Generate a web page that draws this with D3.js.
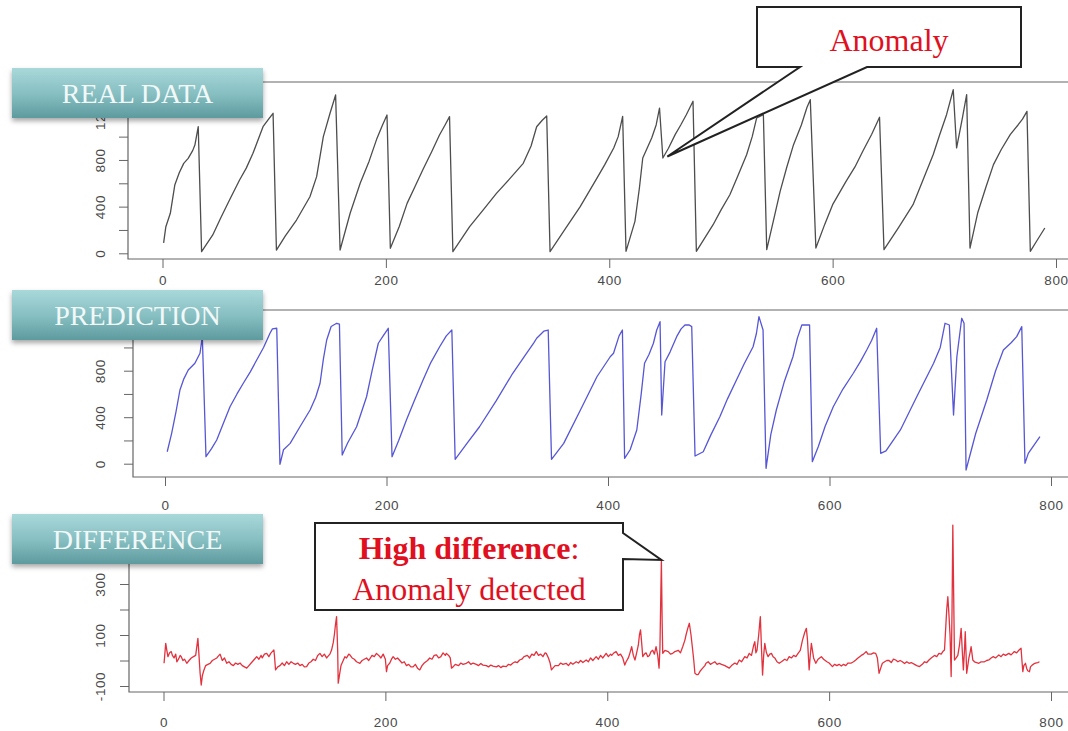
<!DOCTYPE html>
<html>
<head>
<meta charset="utf-8">
<script src="https://cdn.jsdelivr.net/npm/d3@7"></script>
<style>
  body { margin: 0; background: #fff; }
  svg { display: block; }
  .tick text { font-family: "Liberation Sans", Arial, sans-serif; font-size: 13.5px; letter-spacing: 0.6px; fill: #4a4a4a; }
</style>
</head>
<body>
<script>

// values: time index and value for each series
var realX = [1,3,7,11,15,19,23,27,29,32,35,45,52,60,69,75,81,90,95,99,102,110,120,132,138,144,150,155,159,168,177,185,192,197,201,204,212,219,226,233,241,248,253,257,260,275,287,299,311,323,330,335,340,344,347,360,374,389,396,404,408,412,415,423,427,430,438,442,445,448,453,459,464,469,475,478,493,500,508,515,523,528,532,538,541,547,553,559,565,572,577,580,585,593,600,612,620,627,635,642,646,659,672,681,690,696,702,708,711,716,720,723,730,737,744,751,759,766,770,774,777,783,790];
var realY = [90,228,343,585,690,771,814,880,928,1085,14,157,300,457,628,730,857,1085,1150,1200,28,150,285,485,657,1000,1200,1357,28,343,600,790,985,1100,1185,43,230,428,570,714,870,1014,1100,1171,14,228,370,514,640,771,920,1085,1140,1177,14,200,400,645,760,903,1000,1174,17,274,560,817,988,1100,1245,817,900,1017,1100,1188,1303,17,245,370,502,660,845,1000,1160,1188,31,280,531,740,931,1100,1250,1317,45,250,417,617,740,874,1020,1166,31,220,417,630,845,1020,1188,1402,903,1150,1360,45,350,560,760,890,1017,1100,1150,1217,17,110,217];

var predX = [2,6,10,13.5,17,21,27,31.6,33.7,37,42,46.7,52,58.7,65,70.7,77,82.8,89,94.8,97,100.9,103.8,107,113,122,131,136,140,143,146,150,155,157.5,160,165,173,182,187,192.6,197,201.6,205,211,218,225,233,240,248,254,259,262,273,284,299,314,325,333,335.6,342,346,349,360,375,390,402,405,410,413,415,420,426,430,433,437,441,444,447,448.5,451.5,456,462,466,469.5,473,475.6,478.6,486,493,501,508,516,523,531,534,536.3,540,542.7,547,552,559,567,571,575,582,584.5,590,596,603.4,612,621.5,628,633.6,638,642.6,646.2,651,664,679,694,700,704.3,708.2,712,715,719.4,721.5,723.3,732,742,750,757,764,769,773.6,776.5,779.5,790];
var predY = [103,261,450,634,730,806,864,950,1093,60,130,204,330,490,600,692,790,892,1000,1122,1160,1165,-5,120,175,320,462,570,692,900,1064,1180,1208,1200,75,180,318,576,800,1036,1100,1165,60,200,376,540,720,870,1006,1100,1150,38,180,318,540,778,930,1040,1079,1140,1150,38,175,460,748,920,950,1100,1150,46,120,290,600,864,940,1036,1150,1222,419,877,960,1093,1160,1193,1195,1179,66,103,250,404,560,720,860,1006,1120,1265,1150,-40,250,462,700,920,1080,1193,1193,17,150,320,490,640,778,880,978,1060,1165,89,110,290,580,864,1000,1208,1193,419,920,1251,1208,-54,260,548,800,978,1040,1093,1179,3,89,232];

var diffX = [0.5,2,3,4,5.5,7,8,9.5,11,12,13.5,15,16,17.5,19,21,23,25,27,29,31,32,33,34,35,36.5,38,40,42,44,46,48,49,51,53,55,57,59,61,63,65,67,69,71,73,75,77,79,80,82,84,86,88,89,91,93,95,97,99.5,100,101,103,105,107,109,111,113,115,117,119,121,123,125,127,129,131,133,135,137,139,141,143,145,147,148,150,151.5,153,154,155,156,157,157.5,158.5,160,162,163.5,165,167,168,170,172,174,177,179,181,183,185,188,190,192,194,196,198,200,201,202,204,205.5,207,209,211,213,215,217,219,221,223,225,227,229,231,233,235,238,240,242,244,246,248,250,252,254,255,257,258.5,259.6,261,263,266,268,270,273,275,277,279,282,284,286,288,291,293,295,297,300,302,304,306,309,311,313,315,317,319,321,323,325,328,330,332,334,336,338,340,342,344,345,347,348.5,349.7,351,353,356,358,360,363,365,367,369,372,374,376,378,381,383,385,387,390,392,394,396,399,401,403,404,406,408,410,412,414,415.8,417,419,420.5,422,423.5,425,426.5,428,429,430,431,432,433.5,435,436.5,438,439.5,441,442.5,444,445.5,446.7,447.5,448.8,449.5,450,452,455,457,459,461,464,466,468,470,471,472.5,474,475.5,477,478,479,480.5,482,484,486,488,489,491,493,495,497,499,501,503,506,508,510,512,515,517,519,521,524,526,528,530,531,532,533,534,535,536.5,537.5,538,539,540,541,542,543.5,545,546.5,548,549.5,551,553,555,557,560,562,564,566,568,570,572,574,576,578,579.5,580.5,582,583,584,586,588,590,593,595,598,600,603,605,607,609,611,613,615,617,620,622,624,626,629,631,633.5,635,638,640,642,643.5,645,646.5,648,650,652,654,656,658,660,662,664,666,668,670,672,674,677,679,681.5,684,686,688,690,692,695,697,699,701,702.5,704,705,706,707,708,709,710,710.8,711.5,712.3,713,714.5,716,717.5,719,720,721,722,722.7,723.4,724,725,726,727,728,729,729.5,731,733,735,737,740,742,744,746,748,750,753,755,757,759,762,764,767,769,771,773,773.8,774.6,775.5,777,778,779,780.6,781.5,783,785,786,788,789.6];
var diffY = [-11,67,40,15,30,35,20,10,25,-5,5,20,15,0,5,-11,0,10,15,20,87,20,-50,-96,-60,-37,-20,-15,-11,0,5,10,15,25,0,10,-11,-5,-15,-20,-10,-15,-10,-20,-25,-30,-20,-10,-5,5,15,5,20,10,25,28,15,30,41,20,-37,-25,-20,-10,-20,-5,-15,-5,-11,-15,-10,-20,-15,-25,-24,-10,-5,5,0,20,28,15,25,10,15,25,41,70,100,140,172,40,-89,-60,-20,0,15,10,25,22,10,5,-5,-11,0,5,10,0,20,15,28,20,10,25,5,-44,-20,-10,5,15,5,10,0,-10,-5,-20,-15,-25,-25,-15,-30,-37,-20,-10,0,10,5,20,22,10,15,30,20,28,20,10,-30,-25,-15,-20,-10,-15,-11,-5,-15,-10,-15,-20,-12,-18,-20,-25,-18,-22,-25,-20,-28,-22,-24,-15,-18,-10,-5,-8,2,5,15,20,10,25,20,35,20,25,15,30,28,10,-10,-37,-30,-20,-20,-10,-15,-11,-20,-8,-15,-5,-10,0,-8,2,-5,10,0,15,5,20,10,28,15,25,20,30,35,20,25,10,-18,-5,10,30,54,20,2,30,60,100,120,70,15,25,30,15,20,35,40,25,54,20,-30,50,394,150,28,40,35,25,28,35,40,30,54,80,100,125,146,100,41,0,-50,-55,-55,-40,-30,-20,-11,-5,-15,-10,-5,-15,-11,-15,-20,-25,-30,-20,-10,-15,2,-5,15,10,28,20,40,60,74,30,40,100,150,172,50,-57,20,67,30,15,25,28,15,10,-5,-11,-5,5,0,15,10,20,15,28,40,80,110,126,80,-37,20,67,10,-11,5,15,5,-5,-10,-24,-15,-20,-15,-22,-15,-20,-10,-10,-5,2,10,20,25,35,25,25,30,28,10,-50,-30,-11,-5,0,0,-8,5,2,-5,0,-5,-12,-5,-11,-8,-15,-20,-24,-15,-5,-8,2,10,20,15,28,25,35,41,120,200,250,180,100,-63,200,531,250,2,10,20,60,126,40,-37,40,113,30,-50,-20,10,30,54,20,2,-5,-8,-11,-5,-5,0,2,10,15,10,22,15,25,20,28,22,35,30,40,48,0,-44,-20,-11,-30,-40,-44,-25,-18,-12,-10,-8,-5];

var xTicks = [0, 200, 400, 600, 800];
var levelTicks = [0, 200, 400, 600, 800, 1000, 1200];
var levelLabels = [0, 400, 800, 1200];
var diffTicks = [-100, 0, 100, 200, 300];
var diffLabels = [-100, 100, 300];

var svg = d3.select("body").append("svg")
	.attr("width", 1068)
	.attr("height", 731);

var defs = svg.append("defs");
var grad = defs.append("linearGradient")
	.attr("id", "teal")
	.attr("x1", 0).attr("y1", 0).attr("x2", 0).attr("y2", 1);
grad.append("stop").attr("offset", "0%").attr("stop-color", "#a9d8da");
grad.append("stop").attr("offset", "55%").attr("stop-color", "#84bdc0");
grad.append("stop").attr("offset", "100%").attr("stop-color", "#5d9a9e");

var shadow = defs.append("filter").attr("id", "shadow")
	.attr("x", "-5%").attr("y", "-20%").attr("width", "110%").attr("height", "150%");
shadow.append("feDropShadow")
	.attr("dx", 0).attr("dy", 3).attr("stdDeviation", 2.5)
	.attr("flood-color", "#000").attr("flood-opacity", 0.35);

// one entry per panel: layout only, the values come from the arrays above
var panels = [
	{ xs: realX, ys: realY, color: "#4d4d4d", xr: [162.5, 1056], dom: [0, 1200], yr: [253.3, 113.3],
	  left: 128, top: 82, bottom: 259, ticks: levelTicks, labels: levelLabels, pad: 7, lab: 23,
	  title: "REAL DATA", tTop: 68 },
	{ xs: predX, ys: predY, color: "#5656d6", xr: [165, 1051], dom: [0, 1200], yr: [463.7, 324.2],
	  left: 133, top: 310, bottom: 477, ticks: levelTicks, labels: levelLabels, pad: 14, lab: 28,
	  title: "PREDICTION", tTop: 290 },
	{ xs: diffX, ys: diffY, color: "#e2323e", xr: [163.5, 1051], dom: [-100, 300], yr: [686, 584],
	  left: 129, top: null, bottom: 692, ticks: diffTicks, labels: diffLabels, pad: 16, lab: 24,
	  title: "DIFFERENCE", tTop: 514 }
];

panels.forEach(function(p) {
	p.x = d3.scaleLinear().domain([0, 800]).range(p.xr);
	p.y = d3.scaleLinear().domain(p.dom).range(p.yr);

	var g = svg.append("g");

	// frame: R style box (open on the right, off screen), last panel only L shaped
	var frame = p.top === null
		? [[p.left, 560], [p.left, p.bottom], [1080, p.bottom]]
		: [[1080, p.top], [p.left, p.top], [p.left, p.bottom], [1080, p.bottom]];
	g.append("path")
		.attr("d", d3.line()(frame))
		.attr("fill", "none")
		.attr("stroke", "#666")
		.attr("stroke-width", 1.2);

	var xAxis = g.append("g")
		.attr("transform", "translate(0," + p.bottom + ")")
		.call(d3.axisBottom(p.x).tickValues(xTicks).tickSize(9).tickPadding(p.pad).tickFormat(d3.format("d")));
	xAxis.select(".domain").remove();
	xAxis.selectAll(".tick line").attr("stroke", "#666");

	var yAxis = g.append("g")
		.attr("transform", "translate(" + p.left + ",0)")
		.call(d3.axisLeft(p.y).tickValues(p.ticks).tickSize(9)
			.tickFormat(function(d) { return p.labels.indexOf(d) >= 0 ? d : ""; }));
	yAxis.select(".domain").remove();
	yAxis.selectAll(".tick line").attr("stroke", "#666");
	yAxis.selectAll(".tick text")
		.attr("transform", "rotate(-90)")
		.attr("x", 0)
		.attr("y", -p.lab)
		.attr("dy", 0)
		.attr("text-anchor", "middle");

	var line = d3.line()
		.x(function(d) { return p.x(d[0]); })
		.y(function(d) { return p.y(d[1]); });

	g.append("path")
		.datum(d3.zip(p.xs, p.ys))
		.attr("d", line)
		.attr("fill", "none")
		.attr("stroke", p.color)
		.attr("stroke-width", 1.3)
		.attr("stroke-linejoin", "round");
});

// teal title tabs
panels.forEach(function(p) {
	var t = svg.append("g").attr("transform", "translate(12," + p.tTop + ")");
	t.append("rect")
		.attr("width", 251)
		.attr("height", 50)
		.attr("fill", "url(#teal)")
		.attr("filter", "url(#shadow)");
	t.append("text")
		.attr("x", 125.5)
		.attr("y", 35)
		.attr("text-anchor", "middle")
		.style("font-family", "'Liberation Serif', 'Times New Roman', serif")
		.style("font-size", "28px")
		.attr("fill", "#f2f8f8")
		.text(p.title);
});

// callout 1: anomaly in the real data
var p0 = panels[0];
var tip1 = [p0.x(452), p0.y(830)];
svg.append("path")
	.attr("d", d3.line()([[757, 7], [1021, 7], [1021, 67], [867, 67], tip1, [800, 67], [757, 67]]) + "Z")
	.attr("fill", "#fff")
	.attr("stroke", "#222")
	.attr("stroke-width", 2)
	.attr("stroke-linejoin", "miter");
svg.append("text")
	.attr("x", 889)
	.attr("y", 51)
	.attr("text-anchor", "middle")
	.style("font-family", "'Liberation Serif', 'Times New Roman', serif")
	.style("font-size", "32px")
	.attr("fill", "#e0101e")
	.text("Anomaly");

// callout 2: spike in the difference
var p2 = panels[2];
var tip2 = [p2.x(448.8), p2.y(394)];
svg.append("path")
	.attr("d", d3.line()([[315, 523], [623, 523], [623, 533], tip2, [623, 559], [623, 610], [315, 610]]) + "Z")
	.attr("fill", "#fff")
	.attr("stroke", "#222")
	.attr("stroke-width", 2);
var hd = svg.append("text")
	.attr("x", 469)
	.attr("y", 559)
	.attr("text-anchor", "middle")
	.style("font-family", "'Liberation Serif', 'Times New Roman', serif")
	.style("font-size", "32px")
	.attr("fill", "#e0101e");
hd.append("tspan").style("font-weight", "bold").text("High difference");
hd.append("tspan").text(":");
svg.append("text")
	.attr("x", 469)
	.attr("y", 600)
	.attr("text-anchor", "middle")
	.style("font-family", "'Liberation Serif', 'Times New Roman', serif")
	.style("font-size", "32px")
	.attr("fill", "#e0101e")
	.text("Anomaly detected");

</script>
</body>
</html>
